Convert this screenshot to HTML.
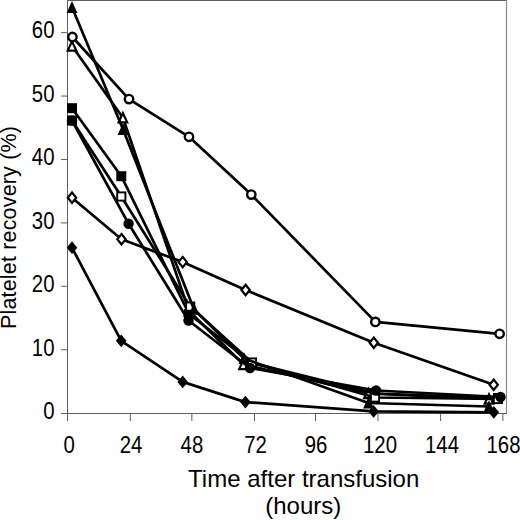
<!DOCTYPE html>
<html><head><meta charset="utf-8"><style>
html,body{margin:0;padding:0;background:#fff;}
svg{display:block;}
text{font-family:"Liberation Sans",sans-serif;fill:#000;}
</style></head><body>
<svg width="520" height="520" viewBox="0 0 520 520">
<rect width="520" height="520" fill="#fff"/>
<line x1="67" y1="0.5" x2="507" y2="0.5" stroke="#5e5e5e" stroke-width="1"/>
<line x1="506.5" y1="0" x2="506.5" y2="413" stroke="#8a8a8a" stroke-width="1.2"/>
<line x1="67.5" y1="0" x2="67.5" y2="421" stroke="#5e5e5e" stroke-width="1"/>
<line x1="61" y1="413.5" x2="507" y2="413.5" stroke="#5e5e5e" stroke-width="1"/>
<line x1="61" y1="349.77" x2="67" y2="349.77" stroke="#5e5e5e" stroke-width="1"/>
<line x1="61" y1="286.34" x2="67" y2="286.34" stroke="#5e5e5e" stroke-width="1"/>
<line x1="61" y1="222.91" x2="67" y2="222.91" stroke="#5e5e5e" stroke-width="1"/>
<line x1="61" y1="159.48" x2="67" y2="159.48" stroke="#5e5e5e" stroke-width="1"/>
<line x1="61" y1="96.05" x2="67" y2="96.05" stroke="#5e5e5e" stroke-width="1"/>
<line x1="61" y1="32.62" x2="67" y2="32.62" stroke="#5e5e5e" stroke-width="1"/>
<line x1="130.3" y1="413" x2="130.3" y2="421" stroke="#5e5e5e" stroke-width="1"/>
<line x1="191.85" y1="413" x2="191.85" y2="421" stroke="#5e5e5e" stroke-width="1"/>
<line x1="254.5" y1="413" x2="254.5" y2="421" stroke="#5e5e5e" stroke-width="1"/>
<line x1="315.5" y1="413" x2="315.5" y2="421" stroke="#5e5e5e" stroke-width="1"/>
<line x1="378" y1="413" x2="378" y2="421" stroke="#5e5e5e" stroke-width="1"/>
<line x1="440.6" y1="413" x2="440.6" y2="421" stroke="#5e5e5e" stroke-width="1"/>
<line x1="502.9" y1="413" x2="502.9" y2="421" stroke="#5e5e5e" stroke-width="1"/>
<polyline points="72,46 122.9,117.7 189,311 243.5,364.5 368.5,393.5 489,399" fill="none" stroke="#000" stroke-width="2.7" stroke-linejoin="round"/>
<polygon points="72,41.4 76.3,50.6 67.7,50.6" fill="#fff" stroke="#000" stroke-width="2.2" stroke-linejoin="miter"/>
<polygon points="122.9,113.10000000000001 127.2,122.3 118.60000000000001,122.3" fill="#fff" stroke="#000" stroke-width="2.2" stroke-linejoin="miter"/>
<polygon points="189,306.4 193.3,315.6 184.7,315.6" fill="#fff" stroke="#000" stroke-width="2.2" stroke-linejoin="miter"/>
<polygon points="243.5,359.9 247.8,369.1 239.2,369.1" fill="#fff" stroke="#000" stroke-width="2.2" stroke-linejoin="miter"/>
<polygon points="368.5,388.9 372.8,398.1 364.2,398.1" fill="#fff" stroke="#000" stroke-width="2.2" stroke-linejoin="miter"/>
<polygon points="489,394.4 493.3,403.6 484.7,403.6" fill="#fff" stroke="#000" stroke-width="2.2" stroke-linejoin="miter"/>
<polyline points="72,108.2 121.3,176.2 189,314 252,363 375,393.5 498,398" fill="none" stroke="#000" stroke-width="2.7" stroke-linejoin="round"/>
<rect x="67" y="103.2" width="10" height="10" fill="#000"/>
<rect x="116.3" y="171.2" width="10" height="10" fill="#000"/>
<rect x="184" y="309" width="10" height="10" fill="#000"/>
<rect x="247" y="358" width="10" height="10" fill="#000"/>
<rect x="370" y="388.5" width="10" height="10" fill="#000"/>
<rect x="493" y="393" width="10" height="10" fill="#000"/>
<polyline points="72,120.5 121.3,196.5 190.2,306.6 252,362.5 375,397.5 498,399" fill="none" stroke="#000" stroke-width="2.7" stroke-linejoin="round"/>
<rect x="67.9" y="116.4" width="8.2" height="8.2" fill="#fff" stroke="#000" stroke-width="1.9"/>
<rect x="117.2" y="192.4" width="8.2" height="8.2" fill="#fff" stroke="#000" stroke-width="1.9"/>
<rect x="186.1" y="302.5" width="8.2" height="8.2" fill="#fff" stroke="#000" stroke-width="1.9"/>
<rect x="247.9" y="358.4" width="8.2" height="8.2" fill="#fff" stroke="#000" stroke-width="1.9"/>
<rect x="370.9" y="393.4" width="8.2" height="8.2" fill="#fff" stroke="#000" stroke-width="1.9"/>
<rect x="493.9" y="394.9" width="8.2" height="8.2" fill="#fff" stroke="#000" stroke-width="1.9"/>
<polyline points="72,7.3 123,129.3 194,309.2 244,358.5 368.5,403 489,406.5" fill="none" stroke="#000" stroke-width="2.7" stroke-linejoin="round"/>
<polygon points="72,1.0999999999999996 77.4,12.899999999999999 66.6,12.899999999999999" fill="#000"/>
<polygon points="123,123.10000000000001 128.4,134.9 117.6,134.9" fill="#000"/>
<polygon points="194,303.0 199.4,314.8 188.6,314.8" fill="#000"/>
<polygon points="244,352.3 249.4,364.1 238.6,364.1" fill="#000"/>
<polygon points="368.5,396.8 373.9,408.6 363.1,408.6" fill="#000"/>
<polygon points="489,400.3 494.4,412.1 483.6,412.1" fill="#000"/>
<polyline points="72,120.5 128.6,223.8 188.5,320.5 250,368 376,390.5 500.5,397" fill="none" stroke="#000" stroke-width="2.7" stroke-linejoin="round"/>
<circle cx="72" cy="120.5" r="5.2" fill="#000"/>
<circle cx="128.6" cy="223.8" r="5.2" fill="#000"/>
<circle cx="188.5" cy="320.5" r="5.2" fill="#000"/>
<circle cx="250" cy="368" r="5.2" fill="#000"/>
<circle cx="376" cy="390.5" r="5.2" fill="#000"/>
<circle cx="500.5" cy="397" r="5.2" fill="#000"/>
<polyline points="72.4,37 129,99.1 189,136.8 251.3,194.6 375.4,321.9 499.6,333.8" fill="none" stroke="#000" stroke-width="2.7" stroke-linejoin="round"/>
<circle cx="72.4" cy="37" r="4.2" fill="#fff" stroke="#000" stroke-width="2.4"/>
<circle cx="129" cy="99.1" r="4.2" fill="#fff" stroke="#000" stroke-width="2.4"/>
<circle cx="189" cy="136.8" r="4.2" fill="#fff" stroke="#000" stroke-width="2.4"/>
<circle cx="251.3" cy="194.6" r="4.2" fill="#fff" stroke="#000" stroke-width="2.4"/>
<circle cx="375.4" cy="321.9" r="4.2" fill="#fff" stroke="#000" stroke-width="2.4"/>
<circle cx="499.6" cy="333.8" r="4.2" fill="#fff" stroke="#000" stroke-width="2.4"/>
<polyline points="72,197.7 121.5,239.2 182.7,262.1 245.6,290 373.8,342.7 493.7,384.8" fill="none" stroke="#000" stroke-width="2.7" stroke-linejoin="round"/>
<polygon points="72,192.5 76.2,197.7 72,202.89999999999998 67.8,197.7" fill="#fff" stroke="#000" stroke-width="2.2" stroke-linejoin="miter"/>
<polygon points="121.5,234.0 125.7,239.2 121.5,244.39999999999998 117.3,239.2" fill="#fff" stroke="#000" stroke-width="2.2" stroke-linejoin="miter"/>
<polygon points="182.7,256.90000000000003 186.89999999999998,262.1 182.7,267.3 178.5,262.1" fill="#fff" stroke="#000" stroke-width="2.2" stroke-linejoin="miter"/>
<polygon points="245.6,284.8 249.79999999999998,290 245.6,295.2 241.4,290" fill="#fff" stroke="#000" stroke-width="2.2" stroke-linejoin="miter"/>
<polygon points="373.8,337.5 378.0,342.7 373.8,347.9 369.6,342.7" fill="#fff" stroke="#000" stroke-width="2.2" stroke-linejoin="miter"/>
<polygon points="493.7,379.6 497.9,384.8 493.7,390.0 489.5,384.8" fill="#fff" stroke="#000" stroke-width="2.2" stroke-linejoin="miter"/>
<polyline points="72,247.7 121.2,340.8 182.7,381.9 245.4,402.1 373.6,411.4 493.8,412.3" fill="none" stroke="#000" stroke-width="2.7" stroke-linejoin="round"/>
<polygon points="72,241.29999999999998 77.3,247.7 72,254.1 66.7,247.7" fill="#000"/>
<polygon points="121.2,334.40000000000003 126.5,340.8 121.2,347.2 115.9,340.8" fill="#000"/>
<polygon points="182.7,375.5 188.0,381.9 182.7,388.29999999999995 177.39999999999998,381.9" fill="#000"/>
<polygon points="245.4,395.70000000000005 250.70000000000002,402.1 245.4,408.5 240.1,402.1" fill="#000"/>
<polygon points="373.6,405.0 378.90000000000003,411.4 373.6,417.79999999999995 368.3,411.4" fill="#000"/>
<polygon points="493.8,405.90000000000003 499.1,412.3 493.8,418.7 488.5,412.3" fill="#000"/>
<text transform="translate(54.5,418.9) scale(0.97,1.1)" text-anchor="end" font-size="21">0</text>
<text transform="translate(54.5,355.5) scale(0.97,1.1)" text-anchor="end" font-size="21">10</text>
<text transform="translate(54.5,292.0) scale(0.97,1.1)" text-anchor="end" font-size="21">20</text>
<text transform="translate(54.5,228.6) scale(0.97,1.1)" text-anchor="end" font-size="21">30</text>
<text transform="translate(54.5,165.2) scale(0.97,1.1)" text-anchor="end" font-size="21">40</text>
<text transform="translate(54.5,101.8) scale(0.97,1.1)" text-anchor="end" font-size="21">50</text>
<text transform="translate(54.5,38.3) scale(0.97,1.1)" text-anchor="end" font-size="21">60</text>
<text transform="translate(69.2,452.7) scale(0.97,1.1)" text-anchor="middle" font-size="21">0</text>
<text transform="translate(131,452.7) scale(0.97,1.1)" text-anchor="middle" font-size="21">24</text>
<text transform="translate(191.9,452.7) scale(0.97,1.1)" text-anchor="middle" font-size="21">48</text>
<text transform="translate(255.5,452.7) scale(0.97,1.1)" text-anchor="middle" font-size="21">72</text>
<text transform="translate(316,452.7) scale(0.97,1.1)" text-anchor="middle" font-size="21">96</text>
<text transform="translate(380,452.7) scale(0.97,1.1)" text-anchor="middle" font-size="21">120</text>
<text transform="translate(442,452.7) scale(0.97,1.1)" text-anchor="middle" font-size="21">144</text>
<text transform="translate(503.5,452.7) scale(0.97,1.1)" text-anchor="middle" font-size="21">168</text>
<text x="303.7" y="486.5" text-anchor="middle" font-size="24">Time after transfusion</text>
<text x="303.3" y="514.2" text-anchor="middle" font-size="24">(hours)</text>
<text transform="translate(15.8,227.6) rotate(-90)" text-anchor="middle" font-size="21.4" textLength="203" lengthAdjust="spacing">Platelet recovery (%)</text>
</svg>
</body></html>
